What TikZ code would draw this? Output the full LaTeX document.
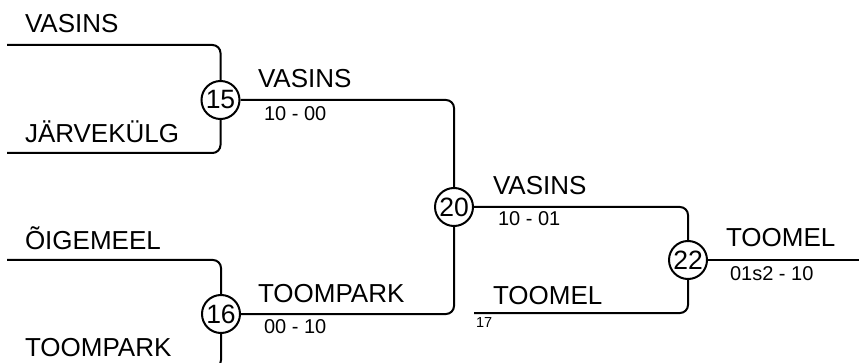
\documentclass[tikz,border=0pt]{standalone}
\usepackage{fontspec}
\setmainfont{Liberation Sans}
\begin{document}
\begin{tikzpicture}[x=1pt,y=-1pt,line width=2pt,
  team/.style={anchor=base west,inner sep=0pt,font=\fontsize{26}{26}\selectfont},
  score/.style={anchor=base west,inner sep=0pt,font=\fontsize{20}{20}\selectfont},
  seed/.style={anchor=base west,inner sep=0pt,font=\fontsize{14.5}{14.5}\selectfont},
  match/.style={circle,draw,inner sep=0pt,minimum size=38pt,font=\fontsize{26.5}{26.5}\selectfont},
  link/.style={rounded corners=8pt}]
\useasboundingbox (0,0) rectangle (859,363);
\clip (0,0) rectangle (859,363);
% start points
\coordinate (s1) at (7,45);
\coordinate (s2) at (7,153);
\coordinate (s3) at (7,260);
\coordinate (s4) at (7,368);
\coordinate (s5) at (474,313);
\coordinate (fin) at (859,260);
% matches
\node[match] (m15) at (220.5,100) {15};
\node[match] (m16) at (221,314) {16};
\node[match] (m20) at (454,207) {20};
\node[match] (m22) at (688,260) {22};
% connectors
\draw[link] (s1) -| (m15);
\draw[link] (s2) -| (m15);
\draw[link] (s3) -| (m16);
\draw[link] (s4) -| (m16);
\draw[link] (m15) -| (m20);
\draw[link] (m16) -| (m20);
\draw[link] (m20) -| (m22);
\draw[link] (s5) -| (m22);
\draw (m22) -- (fin);
% labels
\node[team] (t1) at (24,33) {VASINS};
\node[team] (t2) at (24,143) {JÄRVEKÜLG};
\node[team] (t3) at (24,250) {ÕIGEMEEL};
\node[team] (t4) at (24,356) {TOOMPARK};
\node[team] (t5) at (257,88) {VASINS};
\node[score] (r5) at (263,121) {10 - 00};
\node[team] (t6) at (257,302) {TOOMPARK};
\node[score] (r6) at (263,333) {00 - 10};
\node[team] (t7) at (492,195) {VASINS};
\node[score] (r7) at (497,226) {10 - 01};
\node[team] (t8) at (492,304) {TOOMEL};
\node[seed] (d8) at (475,327) {17};
\node[team] (t9) at (725,247) {TOOMEL};
\node[score] (r9) at (729,280) {01s2 - 10};
\end{tikzpicture}
\end{document}
